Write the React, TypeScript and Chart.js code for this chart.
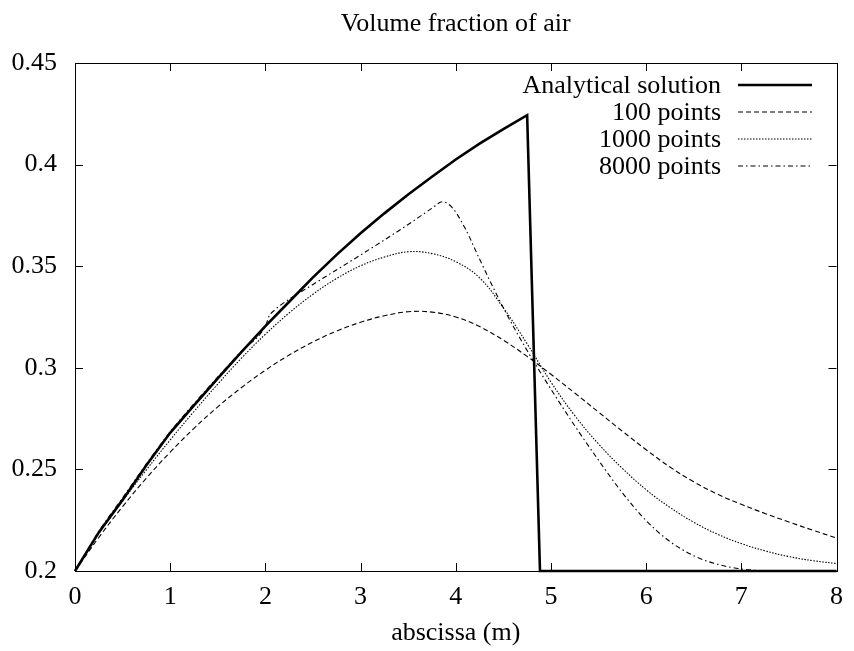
import React, { useEffect, useRef } from "react";
import { Chart, registerables } from "chart.js";
Chart.register(...registerables);

const chartTitle = "Volume fraction of air";
const xAxisTitle = "abscissa (m)";
const xTicks = [0, 1, 2, 3, 4, 5, 6, 7, 8];
const yTicks = [0.2, 0.25, 0.3, 0.35, 0.4, 0.45];
const seriesNames = ["Analytical solution", "100 points", "1000 points", "8000 points"];

const analyticalX = [0, 0.25, 0.5, 0.75, 1, 1.25, 1.5, 1.75, 2, 2.25, 2.5, 2.75, 3, 3.25, 3.5, 3.75, 4, 4.25, 4.5, 4.75, 4.885, 8];
const analyticalY = [0.2, 0.219, 0.235, 0.252, 0.268, 0.2815, 0.2948, 0.3078, 0.3205, 0.3325, 0.3445, 0.3557, 0.3662, 0.376, 0.3853, 0.394, 0.4025, 0.4103, 0.4175, 0.4243, 0.2, 0.2];

const pts100X = [0, 0.25, 0.5, 0.75, 1, 1.25, 1.5, 1.75, 2, 2.25, 2.5, 2.75, 3, 3.25, 3.5, 3.75, 4, 4.25, 4.5, 4.75, 5, 5.25, 5.5, 5.75, 6, 6.25, 6.5, 6.75, 7, 7.25, 7.5, 7.75, 8];
const pts100Y = [0.2, 0.2165, 0.2317, 0.2457, 0.2585, 0.2702, 0.2808, 0.2903, 0.2988, 0.3063, 0.3127, 0.3181, 0.3224, 0.3256, 0.3276, 0.3274, 0.325, 0.3203, 0.3136, 0.3056, 0.2968, 0.2876, 0.2782, 0.2688, 0.2597, 0.2512, 0.2439, 0.2378, 0.2328, 0.2283, 0.2241, 0.2201, 0.2162];

const pts1000X = [0, 0.25, 0.5, 0.75, 1, 1.25, 1.5, 1.75, 2, 2.25, 2.5, 2.75, 3, 3.25, 3.5, 3.75, 4, 4.25, 4.5, 4.75, 5, 5.25, 5.5, 5.75, 6, 6.25, 6.5, 6.75, 7, 7.25, 7.5, 7.75, 8];
const pts1000Y = [0.2, 0.2185, 0.2345, 0.2498, 0.2645, 0.2785, 0.292, 0.3048, 0.3165, 0.327, 0.3362, 0.344, 0.3502, 0.3545, 0.3571, 0.3562, 0.3522, 0.3443, 0.3295, 0.3118, 0.293, 0.2765, 0.2625, 0.2505, 0.24, 0.2313, 0.224, 0.2181, 0.2135, 0.2099, 0.2071, 0.2051, 0.2037];

const pts8000X = [0, 0.25, 0.5, 0.75, 1, 1.25, 1.5, 1.75, 2, 2.04, 2.1, 2.15, 2.5, 3, 3.5, 3.75, 3.86, 3.96, 4.1, 4.25, 4.5, 4.75, 5, 5.25, 5.5, 5.75, 6, 6.25, 6.5, 6.75, 7, 7.25, 7.5, 8];
const pts8000Y = [0.2, 0.2195, 0.236, 0.2527, 0.2685, 0.2823, 0.2955, 0.3082, 0.3205, 0.3255, 0.3285, 0.3305, 0.341, 0.3555, 0.3705, 0.3785, 0.3817, 0.379, 0.3685, 0.3535, 0.3295, 0.3085, 0.2895, 0.2715, 0.2545, 0.2385, 0.2248, 0.2145, 0.2075, 0.2033, 0.201, 0.2001, 0.2, 0.2];

const FONT = '26px "Liberation Serif", "DejaVu Serif", serif';

function toPoints(xs: number[], ys: number[]) {
  return xs.map((x, i) => ({ x, y: ys[i] }));
}

const framePlugin = {
  id: "gnuplotFrame",
  afterDraw(chart: any) {
    const { ctx, chartArea, scales } = chart;
    const { left, right, top, bottom } = chartArea;
    ctx.save();
    ctx.strokeStyle = "#000";
    ctx.lineWidth = 1;
    ctx.setLineDash([]);
    ctx.strokeRect(Math.round(left) + 0.5, Math.round(top) + 0.5, Math.round(right - left), Math.round(bottom - top));
    const tl = 8;
    ctx.beginPath();
    xTicks.forEach((v) => {
      const px = Math.round(scales.x.getPixelForValue(v)) + 0.5;
      ctx.moveTo(px, bottom);
      ctx.lineTo(px, bottom - tl);
      ctx.moveTo(px, top);
      ctx.lineTo(px, top + tl);
    });
    yTicks.forEach((v) => {
      const py = Math.round(scales.y.getPixelForValue(v)) + 0.5;
      ctx.moveTo(left, py);
      ctx.lineTo(left + tl, py);
      ctx.moveTo(right, py);
      ctx.lineTo(right - tl, py);
    });
    ctx.stroke();

    ctx.fillStyle = "#000";
    ctx.font = FONT;
    ctx.textAlign = "center";
    ctx.textBaseline = "alphabetic";
    ctx.fillText(chartTitle, (left + right) / 2, 31);
    ctx.fillText(xAxisTitle, (left + right) / 2, 640);

    chart.data.datasets.forEach((ds: any, i: number) => {
      const y = 85 + 27 * i;
      ctx.textAlign = "right";
      ctx.textBaseline = "middle";
      ctx.fillText(ds.label, 721, y + 1);
      ctx.beginPath();
      ctx.lineWidth = ds.borderWidth;
      ctx.setLineDash(ds.borderDash || []);
      ctx.moveTo(738, y);
      ctx.lineTo(812, y);
      ctx.stroke();
    });
    ctx.restore();
  },
};

export default function App() {
  const ref = useRef<HTMLCanvasElement | null>(null);
  useEffect(() => {
    if (!ref.current) return;
    const mk = (label: string, xs: number[], ys: number[], width: number, dash: number[], mode: string) => ({
      label,
      data: toPoints(xs, ys),
      borderColor: "#000",
      backgroundColor: "#000",
      borderWidth: width,
      borderDash: dash,
      pointRadius: 0,
      showLine: true,
      fill: false,
      tension: mode === "linear" ? 0 : 0.4,
      cubicInterpolationMode: mode === "monotone" ? "monotone" : "default",
      clip: 4,
    });
    const chart = new Chart(ref.current, {
      type: "scatter",
      data: {
        datasets: [
          mk(seriesNames[0], analyticalX, analyticalY, 2.6, [], "linear"),
          mk(seriesNames[1], pts100X, pts100Y, 1.1, [5, 3], "smooth"),
          mk(seriesNames[2], pts1000X, pts1000Y, 1.1, [1.5, 1.5], "smooth"),
          mk(seriesNames[3], pts8000X, pts8000Y, 1.1, [5, 3, 1.5, 3], "monotone"),
        ],
      },
      options: {
        animation: false,
        responsive: false,
        devicePixelRatio: 1,
        layout: { padding: { top: 63, right: 16, left: 0, bottom: 0 } },
        plugins: { legend: { display: false }, title: { display: false }, tooltip: { enabled: false } },
        scales: {
          x: {
            type: "linear",
            min: 0,
            max: 8,
            grid: { display: false, drawTicks: false },
            border: { display: false },
            ticks: {
              padding: 11,
              color: "#000",
              font: { family: '"Liberation Serif", serif', size: 26 },
              maxRotation: 0,
              autoSkip: false,
            },
            afterBuildTicks: (s: any) => {
              s.ticks = xTicks.map((v) => ({ value: v }));
            },
            afterFit: (s: any) => {
              s.height = 80;
            },
          },
          y: {
            type: "linear",
            min: 0.2,
            max: 0.45,
            grid: { display: false, drawTicks: false },
            border: { display: false },
            ticks: {
              padding: 18,
              color: "#000",
              font: { family: '"Liberation Serif", serif', size: 26 },
              autoSkip: false,
              callback: (v: any) => String(Number(Number(v).toFixed(2))),
            },
            afterBuildTicks: (s: any) => {
              s.ticks = yTicks.map((v) => ({ value: v }));
            },
            afterFit: (s: any) => {
              s.width = 75;
            },
          },
        },
      },
      plugins: [framePlugin],
    } as any);
    return () => chart.destroy();
  }, []);
  return (
    <div style={{ position: "fixed", left: 0, top: 0, width: 854, height: 651, background: "#fff" }}>
      <canvas ref={ref} width={854} height={651} style={{ width: 854, height: 651, display: "block" }} />
    </div>
  );
}
